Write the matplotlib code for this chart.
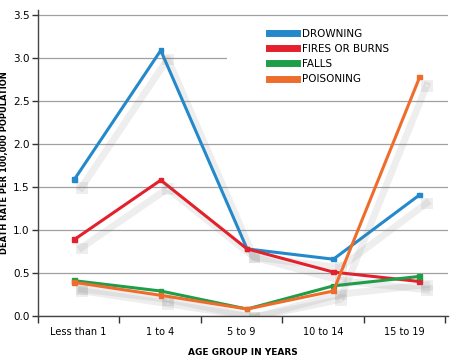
import matplotlib
matplotlib.use("Agg")
import matplotlib.pyplot as plt
import matplotlib.patheffects as pe
from matplotlib.patches import Rectangle
import numpy as np

plt.rcParams['font.family'] = ['Liberation Sans Narrow', 'DejaVu Sans Condensed', 'DejaVu Sans']

# data
age_groups = ['Less than 1', '1 to 4', '5 to 9', '10 to 14', '15 to 19']
drowning = [1.59, 3.09, 0.78, 0.66, 1.41]
fires = [0.89, 1.58, 0.78, 0.51, 0.40]
falls = [0.41, 0.29, 0.08, 0.35, 0.46]
poisoning = [0.39, 0.24, 0.08, 0.29, 2.78]

series = [
    ('DROWNING', drowning, '#2389cb'),
    ('FIRES OR BURNS', fires, '#e3202b'),
    ('FALLS', falls, '#1e9e48'),
    ('POISONING', poisoning, '#ef6d2c'),
]

fig = plt.figure(figsize=(4.5, 3.59), dpi=100)
ax = fig.add_axes([0.084, 0.12, 0.912, 0.852])

# points sit a little off the category centres, as in the original
xpos = np.arange(len(age_groups)) * 1.06 - 0.05

shadow = [pe.SimpleLineShadow(offset=(5, -6), shadow_color='#777777', alpha=0.12,
                              linewidth=5), pe.Normal()]
for name, vals, col in series:
    ax.plot(xpos, vals, color=col, lw=2.2, marker='s', ms=3.2, label=name,
            path_effects=shadow, zorder=3)

ax.set_xlim(-0.5, 4.54)
ax.set_ylim(0, 3.56)
ax.set_yticks(np.arange(0, 3.51, 0.5))
ax.set_yticklabels(['%.1f' % v for v in np.arange(0, 3.51, 0.5)], fontsize=7.5)
ax.yaxis.grid(True, color='#a0a0a0', lw=0.9)
ax.set_axisbelow(True)

ax.set_xticks(np.arange(len(age_groups)))
ax.set_xticklabels(age_groups, fontsize=7)
ax.tick_params(axis='x', which='major', length=0, pad=8)
ax.set_xticks(np.arange(len(age_groups) + 1) - 0.5, minor=True)
ax.tick_params(axis='x', which='minor', length=5, width=1, color='#333333')
ax.tick_params(axis='y', length=4, width=1, color='#333333', pad=2)

for s in ['top', 'right']:
    ax.spines[s].set_visible(False)
for s in ['left', 'bottom']:
    ax.spines[s].set_color('#444444')
    ax.spines[s].set_linewidth(1)

ax.set_ylabel('DEATH RATE PER 100,000 POPULATION', fontsize=6, fontweight='bold',
              labelpad=3)
ax.set_xlabel('AGE GROUP IN YEARS', fontsize=6.5, fontweight='bold', labelpad=8)

# white panel behind the legend hides part of the grid
ax.add_patch(Rectangle((0.46, 0.72), 0.56, 0.25, transform=ax.transAxes,
                       facecolor='white', edgecolor='none', zorder=2, clip_on=False))

leg = ax.legend(loc='upper left', bbox_to_anchor=(0.54, 0.72, 0.46, 0.25), mode='expand',
                fontsize=7.5, frameon=False, handlelength=2.7, handletextpad=0.5,
                labelspacing=0.5, borderpad=0.9, borderaxespad=0)
for h in leg.get_lines():
    h.set_linewidth(5)
    h.set_marker('')
    h.set_path_effects([])

fig.savefig('out.png', dpi=100)
